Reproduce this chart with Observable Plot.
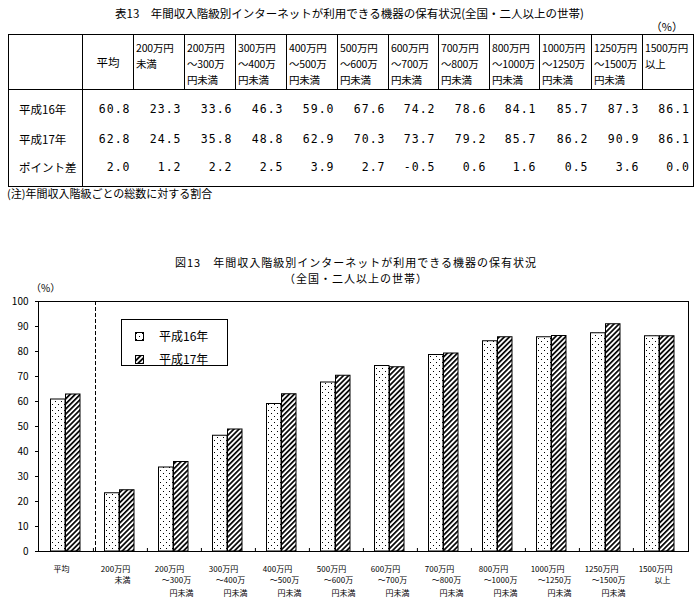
<!DOCTYPE html>
<html><head><meta charset="utf-8">
<script src="https://cdn.jsdelivr.net/npm/d3@7"></script>
<script src="https://cdn.jsdelivr.net/npm/@observablehq/plot@0.6"></script>
<style>
body{margin:0;background:#fff;width:699px;height:609px;position:relative;overflow:hidden;font-family:"Noto Sans CJK JP",sans-serif;color:#000}
.abs{position:absolute;white-space:nowrap;line-height:16px}
table{position:absolute;left:8px;top:34px;border-collapse:collapse;table-layout:fixed;width:686px;border:1px solid #000;font-size:10.5px}
td{padding:0;white-space:nowrap;overflow:visible}
td.hd{border-left:1px solid #000;vertical-align:top;padding:5px 0 1px 2px;line-height:16px;text-align:left;letter-spacing:-0.2px}
td.avg{border-left:1px solid #000;vertical-align:middle;text-align:center;font-size:11.5px}
tr.head td{border-bottom:1px solid #000}
td.lab{border-right:1px solid #000;padding-left:10px;font-size:11.5px;vertical-align:top;line-height:14px}
td.num{text-align:right;padding-right:3px;vertical-align:top;line-height:14px;font-family:"DejaVu Sans Mono",monospace;font-size:11.5px;letter-spacing:1px}
#chart{position:absolute;left:0;top:280px}
#legend{position:absolute;left:121px;top:319px;width:105px;height:45px;border:1px solid #000;background:#fff}
</style></head><body>
<div class="abs" style="left:0;width:699px;top:5px;text-align:center;font-size:11.5px">表13　年間収入階級別インターネットが利用できる機器の保有状況(全国・二人以上の世帯)</div>
<div class="abs" style="right:16px;top:18px;font-size:11px">（%）</div>
<div id="tablewrap"></div>
<div class="abs" style="left:7px;top:185px;font-size:11px">(注)年間収入階級ごとの総数に対する割合</div>
<div id="chart"></div>
<div class="abs" style="left:174px;width:364px;top:254px;font-size:11px;letter-spacing:1px;line-height:16px;text-align:center">図13　年間収入階級別インターネットが利用できる機器の保有状況<br>（全国・二人以上の世帯）</div>
<div class="abs" style="left:31px;top:280px;font-size:10px">（%）</div>
<div id="legend"></div>
<script>
const categories = ["平均","200万円未満","200万円～300万円未満","300万円～400万円未満","400万円～500万円未満","500万円～600万円未満","600万円～700万円未満","700万円～800万円未満","800万円～1000万円未満","1000万円～1250万円未満","1250万円～1500万円未満","1500万円以上"];
const line1 = ["平均","200万円","200万円","300万円","400万円","500万円","600万円","700万円","800万円","1000万円","1250万円","1500万円"];
const line2 = ["","未満","～300万","～400万","～500万","～600万","～700万","～800万","～1000万","～1250万","～1500万","以上"];
const line3 = ["","","円未満","円未満","円未満","円未満","円未満","円未満","円未満","円未満","円未満",""];
const seriesNames = ["平成16年","平成17年"];
const h16 = [60.8,23.3,33.6,46.3,59.0,67.6,74.2,78.6,84.1,85.7,87.3,86.1];
const h17 = [62.8,24.5,35.8,48.8,62.9,70.3,73.7,79.2,85.7,86.2,90.9,86.1];
const diff = [2.0,1.2,2.2,2.5,3.9,2.7,-0.5,0.6,1.6,0.5,3.6,0.0];
const rowLabels = ["平成16年","平成17年","ポイント差"];
const yTicks = [0,10,20,30,40,50,60,70,80,90,100];
const FONT = '"Noto Sans CJK JP", sans-serif';

// ---- table ----
const colW = [74,51,51,51,51,51,51,50,51,50,52,51,51];
let html = "<table><colgroup>" + colW.map(w=>`<col style="width:${w}px">`).join("") + "</colgroup>";
html += '<tr class="head" style="height:54px"><td class="lab" style="border-right:1px solid #000"></td>';
categories.forEach((c,i)=>{
  if(i===0){ html += `<td class="avg">${line1[i]}</td>`; }
  else { html += `<td class="hd">${[line1[i],line2[i],line3[i]].filter(s=>s).join("<br>")}</td>`; }
});
html += "</tr>";
const dataRows = [h16,h17,diff];
const pads = [[12,4],[12,4],[10,12]];
dataRows.forEach((arr,r)=>{
  const [pt,pb] = pads[r];
  html += `<tr><td class="lab" style="padding-top:${pt}px;padding-bottom:${pb}px">${rowLabels[r]}</td>`;
  arr.forEach(v=>{ html += `<td class="num" style="padding-top:${pt}px;padding-bottom:${pb}px">${v.toFixed(1)}</td>`; });
  html += "</tr>";
});
html += "</table>";
document.getElementById("tablewrap").innerHTML = html;

// ---- chart ----
const rows = categories.map((c,i)=>({cat:c, v16:h16[i], v17:h17[i], l1:line1[i], l2:line2[i], l3:line3[i]}));
const chart = Plot.plot({
  width: 699, height: 329,
  marginLeft: 38, marginRight: 11, marginTop: 21, marginBottom: 58,
  style: {fontFamily: FONT, fontSize: "10px", color: "#000", background: "transparent", overflow: "visible"},
  x: {type: "band", domain: categories, padding: 0, axis: null},
  y: {domain: [0,100]},
  marks: [
    Plot.ruleX([categories[1]], {x: d=>d, y1: 0, y2: 100, dx: -25, stroke: "#000", strokeDasharray: "4,2"}),
    Plot.barY(rows, {x: "cat", y: "v16", fill: "url(#dots16)", stroke: "#000", insetLeft: 11.5, insetRight: 28}),
    Plot.barY(rows, {x: "cat", y: "v17", fill: "url(#hatch17)", stroke: "#000", insetLeft: 26.5, insetRight: 13}),
    Plot.ruleX(categories.slice(1), {x: d=>d, y1: 0, y2: 1.2, dx: -27.08, stroke: "#000"}),
    Plot.frame({stroke: "#000"}),
    Plot.axisY(yTicks, {tickSize: 3, tickPadding: 7, label: null, fontSize: 10}),
    Plot.text(rows, {x: "cat", y: 0, text: "l1", dy: 18, dx: -5, fontSize: 8}),
    Plot.text(rows, {x: "cat", y: 0, text: "l2", dy: 29, dx: 2, fontSize: 8}),
    Plot.text(rows, {x: "cat", y: 0, text: "l3", dy: 42, dx: 7, fontSize: 8})
  ]
});
const s = d3.select(chart);
const defs = s.insert("defs", ":first-child");
const dp = defs.append("pattern").attr("id","dots16").attr("patternUnits","userSpaceOnUse").attr("width",6).attr("height",6);
dp.append("rect").attr("width",6).attr("height",6).attr("fill","#fff");
dp.append("rect").attr("x",1).attr("y",1).attr("width",1).attr("height",1).attr("fill","#000");
dp.append("rect").attr("x",4).attr("y",4).attr("width",1).attr("height",1).attr("fill","#000");
const hp = defs.append("pattern").attr("id","hatch17").attr("patternUnits","userSpaceOnUse").attr("width",3.6).attr("height",3.6).attr("patternTransform","rotate(45)");
hp.append("rect").attr("width",3.6).attr("height",3.6).attr("fill","#fff");
hp.append("rect").attr("width",1.7).attr("height",3.6).attr("fill","#000");
document.getElementById("chart").appendChild(chart);

// ---- legend ----
const lg = document.getElementById("legend");
lg.innerHTML = seriesNames.map((n,i)=>
  `<div style="position:absolute;left:13px;top:${[8,31][i]}px;height:16px;line-height:16px;font-size:12px;white-space:nowrap">`+
  `<svg width="9" height="9" style="vertical-align:middle;margin-top:-2px"><rect x="0.5" y="0.5" width="8" height="8" fill="${i?'url(#hatch17)':'url(#dots16)'}" stroke="#000"/></svg>`+
  `<span style="margin-left:15px">${n}</span></div>`).join("");
</script>
</body></html>
